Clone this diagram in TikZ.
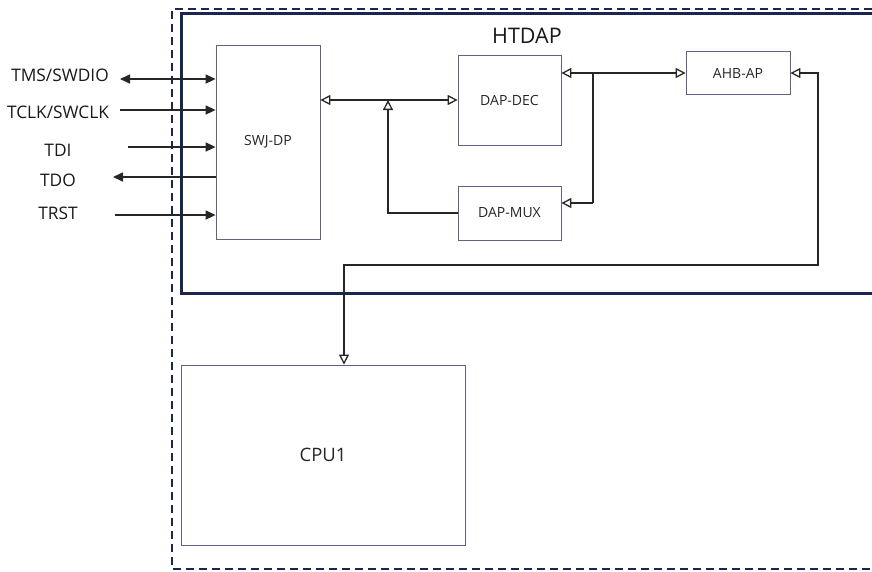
\documentclass[tikz,border=0pt]{standalone}
\usepackage{fontspec}
\setmainfont{Open Sans}
\usetikzlibrary{arrows.meta,calc}
\definecolor{navy}{HTML}{1C2550}
\definecolor{boxc}{HTML}{5C6385}
\definecolor{wirec}{HTML}{262626}
\begin{document}
\begin{tikzpicture}[x=1pt,y=-1pt,
  blk/.style={draw=boxc,line width=0.8pt,inner sep=0pt,font=\fontsize{14}{16}\selectfont,text=black!85},
  pinlbl/.style={font=\fontsize{17.3}{20}\selectfont,inner sep=0pt,text=black!90},
  wire/.style={draw=wirec,line width=1.4pt},
  pinw/.style={draw=wirec,line width=1.6pt},
  otip/.tip={Triangle[open,length=10pt,width=10pt,line width=1.3pt]},
  stip/.tip={Triangle[length=10pt,width=9pt]}
]
\useasboundingbox (0,0) rectangle (872,571);
% outer dashed frame (right side off canvas)
\draw[navy,line width=2pt,dash pattern=on 8pt off 5pt] (872,9) -- (172,9) -- (172,569) -- (872,569);
% HTDAP frame
\draw[navy,line width=3pt] (872,13) -- (181,13) -- (181,293) -- (872,293);
\node[font=\fontsize{21.5}{24}\selectfont,inner sep=0pt,text=black!90] (htdap) at (527,36) {HTDAP};

% blocks
\node[blk,minimum width=104pt,minimum height=194pt] (swj) at (268,142) {SWJ-DP};
\node[blk,minimum width=103pt,minimum height=90pt] (dec) at (509.5,100) {DAP-DEC};
\node[blk,minimum width=103pt,minimum height=54pt] (mux) at (509.5,213) {DAP-MUX};
\node[blk,minimum width=104pt,minimum height=43pt] (ahb) at (738,73) {AHB-AP};
\node[blk,minimum width=284pt,minimum height=180pt,font=\fontsize{18.5}{21}\selectfont] (cpu) at (323,455) {CPU1};

% pin labels
\node[pinlbl] (tms) at (60,75) {TMS/SWDIO};
\node[pinlbl] (tclk) at (58,112) {TCLK/SWCLK};
\node[pinlbl] (tdi) at (58,150) {TDI};
\node[pinlbl] (tdo) at (58,180) {TDO};
\node[pinlbl] (trst) at (58,213) {TRST};

\coordinate (ptms) at (120,79);
\coordinate (ptclk) at (120,110);
\coordinate (ptdi) at (128,147);
\coordinate (ptdo) at (113,177);
\coordinate (ptrst) at (115,215);
\draw[pinw,stip-stip] (ptms) -- (ptms -| swj.west);
\draw[pinw,-stip] (ptclk) -- (ptclk -| swj.west);
\draw[pinw,-stip] (ptdi) -- (ptdi -| swj.west);
\draw[pinw,-stip] (ptdo -| swj.west) -- (ptdo);
\draw[pinw,-stip] (ptrst) -- (ptrst -| swj.west);

% internal connectors
\draw[wire,otip-otip] (swj.east |- dec) -- (dec.west);
\coordinate (jm) at (388,100);
\draw[wire,-otip] (mux.west) -| (jm);
\coordinate (bt) at (593,73);
\coordinate (bb) at (593,203);
\draw[wire] (bt) -- (bb);
\draw[wire,-otip] (bt) -- (bt -| dec.east);
\draw[wire,-otip] (bb) -- (bb -| mux.east);
\draw[wire,-otip] (bt) -- (ahb.west);
\coordinate (r1) at (818,265);
\coordinate (r2) at (344,265);
\draw[wire,otip-otip] (ahb.east) -| (r1) -- (r2) -- (r2 |- cpu.north);
\end{tikzpicture}
\end{document}
